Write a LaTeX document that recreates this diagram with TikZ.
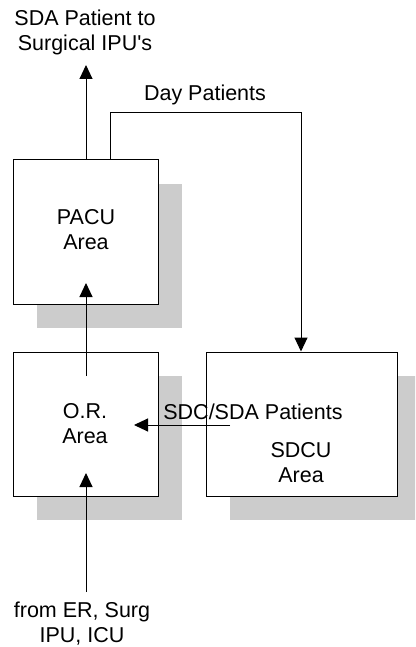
\documentclass[tikz,border=0pt]{standalone}
\usepackage{fontspec}
\setmainfont{Liberation Sans}
\usetikzlibrary{arrows.meta,shadows}
\definecolor{shadowgray}{RGB}{204,204,204}
\tikzset{
  area/.style={draw=black, line width=1pt, fill=white, inner sep=0pt,
    minimum height=144pt,
    general shadow={shadow xshift=24pt, shadow yshift=-24pt, fill=shadowgray}},
  txt/.style={align=center, inner sep=0pt, font=\fontsize{21.5}{25}\selectfont},
  flow/.style={line width=1pt, -{Triangle[length=14pt,width=13pt]}}
}
\begin{document}
\begin{tikzpicture}[x=1pt,y=-1pt]
\useasboundingbox (0,0) rectangle (415,647);
\clip (0,0) rectangle (415,647);

% unit boxes
\node[area, minimum width=145pt] (pacu) at (85.5,232) {};
\node[area, minimum width=145pt] (or) at (85.5,424) {};
\node[area, minimum width=191pt] (sdcu) at (301.5,424) {};

% box captions
\node[txt] (pacutext) at (86,230) {PACU\\Area};
\node[txt] (ortext) at (85,424) {O.R.\\Area};
\node[txt] (sdcutext) at (301,462.5) {SDCU\\Area};

% free labels
\node[txt] (toplabel) at (85,32) {SDA Patient to\\Surgical IPU\textquotesingle s};
\node[txt] (daylabel) at (205,95.3) {Day Patients};
\node[txt] (sdclabel) at (253,412) {SDC/SDA Patients};
\node[txt] (erlabel) at (82,624) {from ER, Surg\\IPU, ICU};

% connector end points
\coordinate (sdaend) at (86,65);
\coordinate (dayleft) at (110,113);
\coordinate (dayright) at (301,113);
\coordinate (orup) at (86,376);
\coordinate (pacuin) at (86,283);
\coordinate (sdcstart) at (230,425);
\coordinate (orin) at (134,425);
\coordinate (erstart) at (86,592);
\coordinate (orlow) at (86,473);

% flows
\draw[flow] (pacu.north -| sdaend) -- (sdaend);
\draw[flow] (pacu.north -| dayleft) -- (dayleft) -- (dayright) -- (dayright |- sdcu.north);
\draw[flow] (orup) -- (pacuin);
\draw[flow] (sdcstart) -- (orin);
\draw[flow] (erstart) -- (orlow);
\end{tikzpicture}
\end{document}
